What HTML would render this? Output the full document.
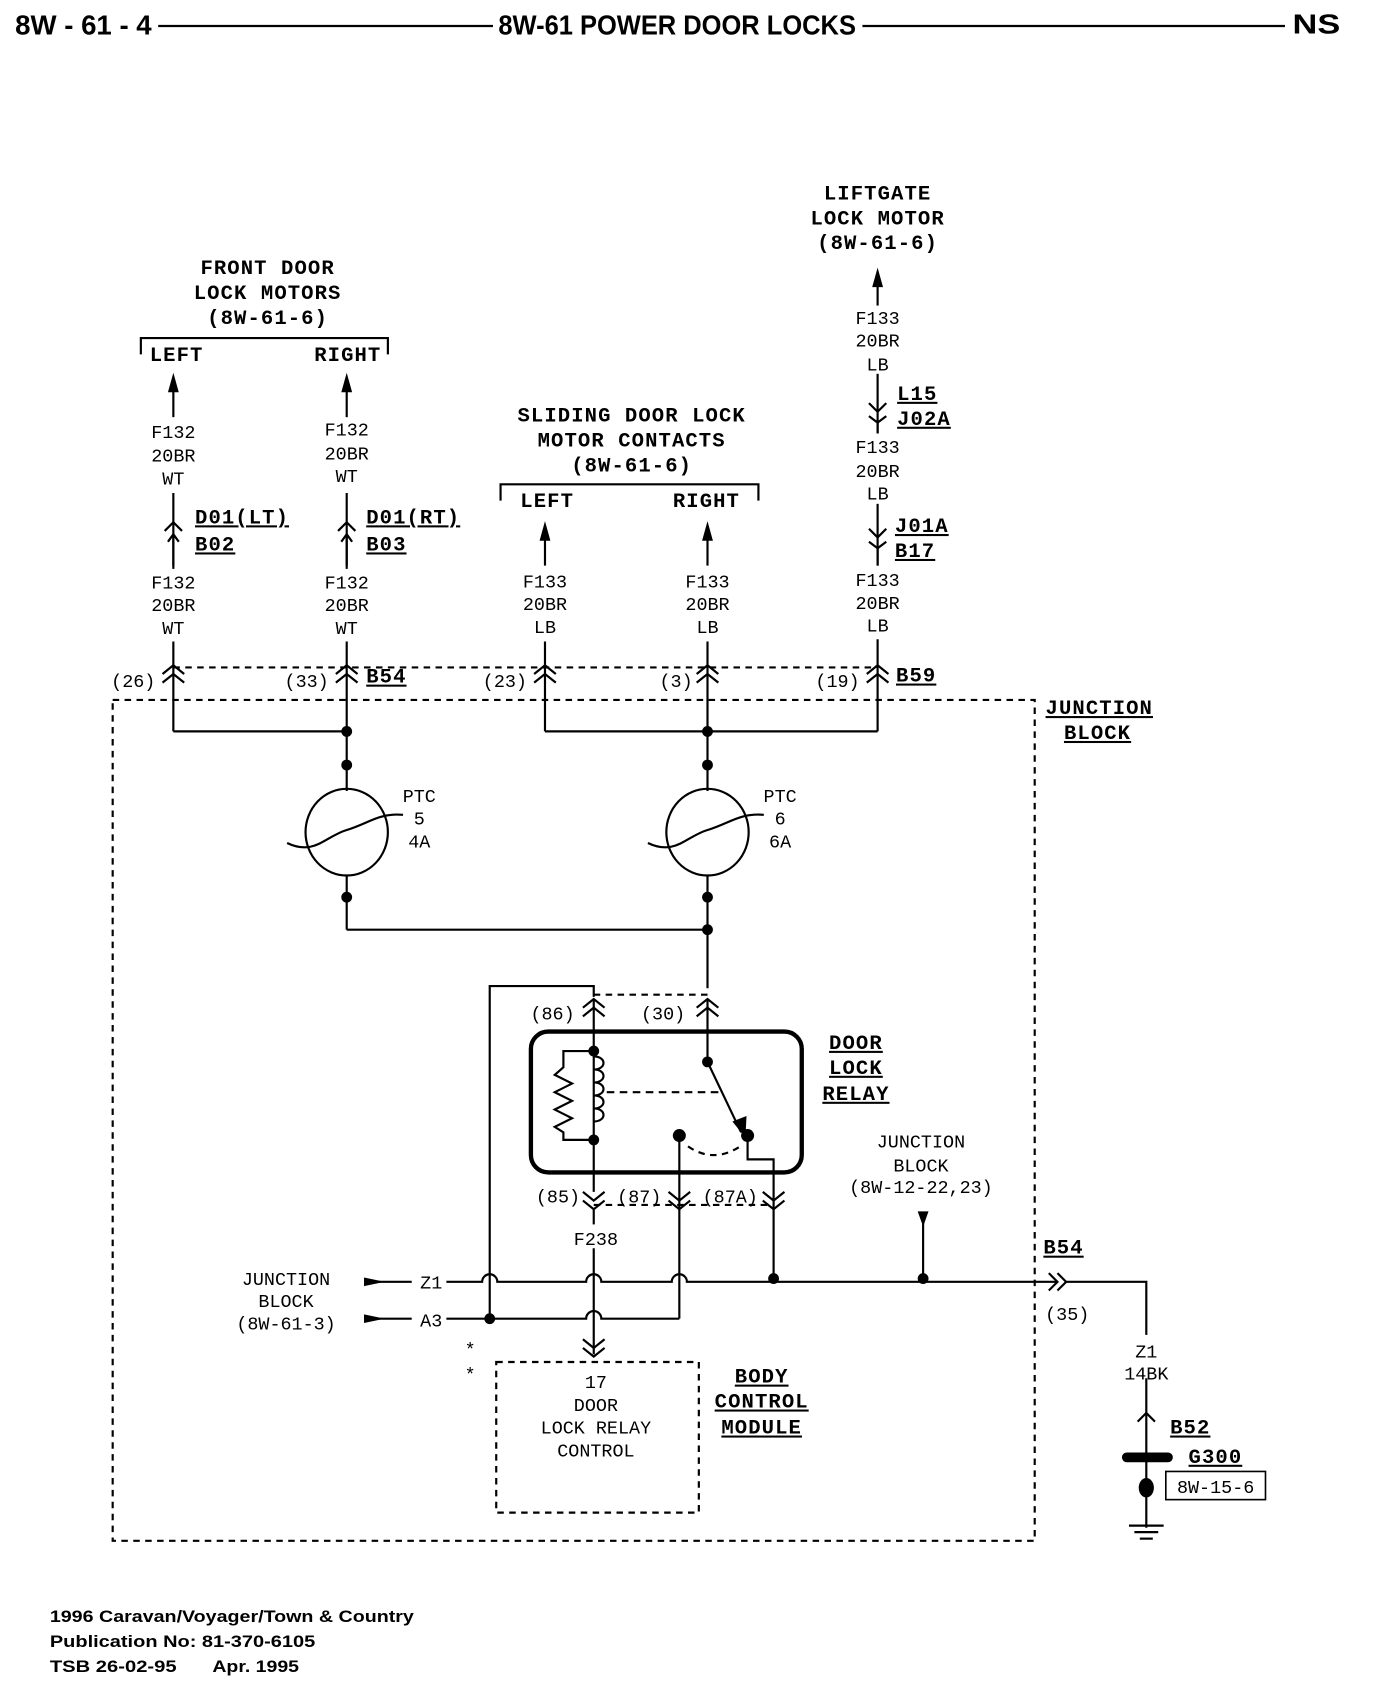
<!DOCTYPE html>
<html><head><meta charset="utf-8"><style>
html,body{margin:0;padding:0;background:#fff}
svg{display:block}
.m{font-family:"Liberation Mono",monospace;font-size:17px;fill:#000;text-anchor:middle}
.b{font-family:"Liberation Mono",monospace;font-weight:bold;font-size:19px;fill:#000;text-anchor:middle;letter-spacing:1px}
.u{text-decoration:underline}
.h{font-family:"Liberation Sans",sans-serif;font-weight:bold;font-size:26px;fill:#000}
.f{font-family:"Liberation Sans",sans-serif;font-size:15px;font-weight:bold;fill:#000}
</style></head><body>
<svg width="1376" height="1686" viewBox="0 0 1270 1556" preserveAspectRatio="none" xmlns="http://www.w3.org/2000/svg">
<g fill="none" stroke="#000" stroke-width="2">
<text class="h" x="14" y="32" textLength="126" lengthAdjust="spacingAndGlyphs" stroke="none" fill="#000">8W - 61 - 4</text>
<line x1="146" y1="24" x2="455" y2="24"/>
<text class="h" x="460" y="32" textLength="330" lengthAdjust="spacingAndGlyphs" stroke="none" fill="#000">8W-61 POWER DOOR LOCKS</text>
<line x1="796" y1="24" x2="1186" y2="24"/>
<text class="h" x="1193" y="31" textLength="44" lengthAdjust="spacingAndGlyphs" stroke="none" fill="#000">NS</text>

<polyline points="130,327 130,312 358,312 358,327"/>
<polyline points="462,462 462,447 700,447 700,462"/>

<line x1="160" y1="352" x2="160" y2="385"/><line x1="160" y1="455" x2="160" y2="525"/><line x1="160" y1="592" x2="160" y2="675"/>
<line x1="320" y1="352" x2="320" y2="385"/><line x1="320" y1="455" x2="320" y2="525"/><line x1="320" y1="592" x2="320" y2="730"/>
<line x1="503" y1="490" x2="503" y2="522"/><line x1="503" y1="592" x2="503" y2="675"/>
<line x1="653" y1="490" x2="653" y2="522"/><line x1="653" y1="592" x2="653" y2="730"/>
<line x1="810" y1="255" x2="810" y2="282"/><line x1="810" y1="345" x2="810" y2="400"/><line x1="810" y1="465" x2="810" y2="522"/><line x1="810" y1="590" x2="810" y2="675"/>
<line x1="160" y1="675" x2="320" y2="675"/><line x1="503" y1="675" x2="810" y2="675"/>

<g fill="#000" stroke="none">
<polygon points="160,344 155,362 165,362"/><polygon points="320,344 315,362 325,362"/>
<polygon points="503,481 498,499 508,499"/><polygon points="653,481 648,499 658,499"/>
<polygon points="810,247 805,265 815,265"/>
<polygon points="852,1132 847,1118 857,1118"/>
<polygon points="355,1183 336,1179 336,1187"/><polygon points="355,1217 336,1213 336,1221"/>
</g>
<line x1="336" y1="1183" x2="380" y2="1183"/><line x1="336" y1="1217" x2="380" y2="1217"/>

<polyline points="152,490 160,482 168,490"/><line x1="160" y1="496" x2="160" y2="522"/><polyline points="155,500 160,493 165,500"/>
<polyline points="312,490 320,482 328,490"/><line x1="320" y1="496" x2="320" y2="522"/><polyline points="315,500 320,493 325,500"/>
<polyline points="802,372 810,380 818,372"/><polyline points="802,384 810,390 818,384"/><line x1="810" y1="390" x2="810" y2="400"/>
<polyline points="802,488 810,496 818,488"/><polyline points="802,500 810,506 818,500"/><line x1="810" y1="506" x2="810" y2="522"/>

<g>
<polyline points="150,622 160,614 170,622"/><polyline points="150,630 160,622 170,630"/>
<polyline points="310,622 320,614 330,622"/><polyline points="310,630 320,622 330,630"/>
<polyline points="493,622 503,614 513,622"/><polyline points="493,630 503,622 513,630"/>
<polyline points="643,622 653,614 663,622"/><polyline points="643,630 653,622 663,630"/>
<polyline points="800,622 810,614 820,622"/><polyline points="800,630 810,622 820,630"/>
</g>
<line x1="160" y1="616" x2="810" y2="616" stroke-dasharray="6,5"/>

<rect x="104" y="646" width="851" height="776" stroke-dasharray="6,5"/>

<ellipse cx="320" cy="768" rx="38" ry="40"/><ellipse cx="653" cy="768" rx="38" ry="40"/>
<path d="M265,778 C290,790 300,772 320,766 S350,750 372,752"/>
<path d="M598,778 C623,790 633,772 653,766 S683,750 705,752"/>
<line x1="320" y1="808" x2="320" y2="858"/><line x1="653" y1="808" x2="653" y2="912"/>
<line x1="320" y1="858" x2="653" y2="858"/>

<rect x="490" y="952" width="250" height="130" rx="16" stroke-width="4"/>
<polyline points="548,920 548,910 452,910 452,1217"/>
<polyline points="538,930 548,922 558,930"/><polyline points="538,938 548,930 558,938"/>
<polyline points="643,930 653,922 663,930"/><polyline points="643,938 653,930 663,938"/>
<line x1="548" y1="918" x2="653" y2="918" stroke-dasharray="6,5"/>
<line x1="548" y1="922" x2="548" y2="1100"/><line x1="653" y1="922" x2="653" y2="980"/>
<polyline points="548,970 520,970 520,985 512,992 528,1000 512,1008 528,1016 512,1024 528,1032 512,1040 520,1045 520,1052 548,1052"/>
<path d="M548,975 c12,0 12,12 0,12 c12,0 12,12 0,12 c12,0 12,12 0,12 c12,0 12,12 0,12 c12,0 12,12 0,12"/>
<line x1="560" y1="1008" x2="668" y2="1008" stroke-dasharray="7,5"/>
<line x1="653" y1="980" x2="684" y2="1045"/>
<polygon points="688,1050 676,1035 689,1030" fill="#000" stroke="none"/>
<path d="M635,1058 Q660,1075 686,1056" stroke-dasharray="6,5"/>
<polyline points="690,1048 690,1070 714,1070 714,1180"/>
<line x1="627" y1="1048" x2="627" y2="1217"/>
<polyline points="538,1100 548,1108 558,1100"/><polyline points="538,1108 548,1116 558,1108"/>
<polyline points="617,1100 627,1108 637,1100"/><polyline points="617,1108 627,1116 637,1108"/>
<polyline points="704,1100 714,1108 724,1100"/><polyline points="704,1108 714,1116 724,1108"/>
<line x1="548" y1="1112" x2="714" y2="1112" stroke-dasharray="6,5"/>
<line x1="548" y1="1116" x2="548" y2="1130"/><line x1="548" y1="1152" x2="548" y2="1250"/>
<path d="M412,1183 H445 a7,7 0 0 1 14,0 H541 a7,7 0 0 1 14,0 H620 a7,7 0 0 1 14,0 H975"/>
<path d="M412,1217 H541 a7,7 0 0 1 14,0 H627"/>
<line x1="852" y1="1120" x2="852" y2="1183"/>
<polyline points="968,1175 976,1183 968,1191"/><polyline points="976,1175 984,1183 976,1191"/>
<polyline points="984,1183 1058,1183 1058,1232"/>
<polyline points="538,1236 548,1244 558,1236"/><polyline points="538,1244 548,1252 558,1244"/>
<rect x="458" y="1257" width="187" height="139" stroke-dasharray="6,5"/>
<line x1="1058" y1="1272" x2="1058" y2="1410"/>
<polyline points="1050,1312 1058,1304 1066,1312"/>
<line x1="1040" y1="1345" x2="1078" y2="1345" stroke-width="9" stroke-linecap="round"/>
<rect x="1076" y="1358" width="92" height="26" stroke-width="1.5"/>
<line x1="1042" y1="1408" x2="1074" y2="1408"/><line x1="1047" y1="1414" x2="1069" y2="1414"/><line x1="1052" y1="1420" x2="1064" y2="1420"/>
</g>
<g fill="#000">
<circle cx="320" cy="675" r="5"/><circle cx="653" cy="675" r="5"/>
<circle cx="320" cy="706" r="5"/><circle cx="653" cy="706" r="5"/>
<circle cx="320" cy="828" r="5"/><circle cx="653" cy="828" r="5"/><circle cx="653" cy="858" r="5"/>
<circle cx="548" cy="970" r="5"/><circle cx="548" cy="1052" r="5"/><circle cx="653" cy="980" r="5"/>
<circle cx="627" cy="1048" r="6"/><circle cx="690" cy="1048" r="6"/>
<circle cx="714" cy="1180" r="5"/><circle cx="852" cy="1180" r="5"/><circle cx="452" cy="1217" r="5"/>
<ellipse cx="1058" cy="1373" rx="7" ry="9"/>
</g>

<text class="b" x="247" y="253">FRONT DOOR</text><text class="b" x="247" y="276">LOCK MOTORS</text><text class="b" x="247" y="299">(8W-61-6)</text>
<text class="b" x="163" y="333">LEFT</text><text class="b" x="321" y="333">RIGHT</text>
<text class="b" x="810" y="184">LIFTGATE</text><text class="b" x="810" y="207">LOCK MOTOR</text><text class="b" x="810" y="230">(8W-61-6)</text>
<text class="b" x="583" y="389">SLIDING DOOR LOCK</text><text class="b" x="583" y="412">MOTOR CONTACTS</text><text class="b" x="583" y="435">(8W-61-6)</text>
<text class="b" x="505" y="468">LEFT</text><text class="b" x="652" y="468">RIGHT</text>
<text class="b u" x="180" y="483" style="text-anchor:start">D01(LT)</text><text class="b u" x="180" y="508" style="text-anchor:start">B02</text>
<text class="b u" x="338" y="483" style="text-anchor:start">D01(RT)</text><text class="b u" x="338" y="508" style="text-anchor:start">B03</text>
<text class="b u" x="828" y="369" style="text-anchor:start">L15</text><text class="b u" x="828" y="392" style="text-anchor:start">J02A</text>
<text class="b u" x="826" y="491" style="text-anchor:start">J01A</text><text class="b u" x="826" y="514" style="text-anchor:start">B17</text>
<text class="b u" x="338" y="630" style="text-anchor:start">B54</text><text class="b u" x="827" y="629" style="text-anchor:start">B59</text>
<text class="b u" x="965" y="659" style="text-anchor:start">JUNCTION</text><text class="b u" x="982" y="682" style="text-anchor:start">BLOCK</text>
<text class="b u" x="963" y="1157" style="text-anchor:start">B54</text>
<text class="b u" x="1080" y="1323" style="text-anchor:start">B52</text><text class="b u" x="1097" y="1350" style="text-anchor:start">G300</text>
<text class="b u" x="790" y="968">DOOR</text><text class="b u" x="790" y="991">LOCK</text><text class="b u" x="790" y="1015">RELAY</text>
<text class="b u" x="703" y="1276">BODY</text><text class="b u" x="703" y="1299">CONTROL</text><text class="b u" x="703" y="1323">MODULE</text>

<text class="m" x="160" y="404">F132</text><text class="m" x="160" y="426">20BR</text><text class="m" x="160" y="447">WT</text>
<text class="m" x="320" y="402">F132</text><text class="m" x="320" y="424">20BR</text><text class="m" x="320" y="445">WT</text>
<text class="m" x="160" y="543">F132</text><text class="m" x="160" y="564">20BR</text><text class="m" x="160" y="585">WT</text>
<text class="m" x="320" y="543">F132</text><text class="m" x="320" y="564">20BR</text><text class="m" x="320" y="585">WT</text>
<text class="m" x="503" y="542">F133</text><text class="m" x="503" y="563">20BR</text><text class="m" x="503" y="584">LB</text>
<text class="m" x="653" y="542">F133</text><text class="m" x="653" y="563">20BR</text><text class="m" x="653" y="584">LB</text>
<text class="m" x="810" y="299">F133</text><text class="m" x="810" y="320">20BR</text><text class="m" x="810" y="342">LB</text>
<text class="m" x="810" y="418">F133</text><text class="m" x="810" y="440">20BR</text><text class="m" x="810" y="461">LB</text>
<text class="m" x="810" y="541">F133</text><text class="m" x="810" y="562">20BR</text><text class="m" x="810" y="583">LB</text>
<text class="m" x="123" y="634">(26)</text><text class="m" x="283" y="634">(33)</text><text class="m" x="466" y="634">(23)</text><text class="m" x="624" y="634">(3)</text><text class="m" x="773" y="634">(19)</text>
<text class="m" x="387" y="740">PTC</text><text class="m" x="387" y="761">5</text><text class="m" x="387" y="782">4A</text>
<text class="m" x="720" y="740">PTC</text><text class="m" x="720" y="761">6</text><text class="m" x="720" y="782">6A</text>
<text class="m" x="510" y="941">(86)</text><text class="m" x="612" y="941">(30)</text>
<text class="m" x="515" y="1110">(85)</text><text class="m" x="590" y="1110">(87)</text><text class="m" x="674" y="1110">(87A)</text>
<text class="m" x="550" y="1149">F238</text>
<text class="m" x="850" y="1059">JUNCTION</text><text class="m" x="850" y="1081">BLOCK</text><text class="m" x="850" y="1101">(8W-12-22,23)</text>
<text class="m" x="264" y="1186">JUNCTION</text><text class="m" x="264" y="1206">BLOCK</text><text class="m" x="264" y="1227">(8W-61-3)</text>
<text class="m" x="398" y="1189">Z1</text><text class="m" x="398" y="1224">A3</text>
<text class="m" x="985" y="1218">(35)</text>
<text class="m" x="1058" y="1253">Z1</text><text class="m" x="1058" y="1273">14BK</text>
<text class="m" x="1122" y="1378">8W-15-6</text>
<text class="m" x="434" y="1251">*</text><text class="m" x="434" y="1274">*</text>
<text class="m" x="550" y="1281">17</text><text class="m" x="550" y="1302">DOOR</text><text class="m" x="550" y="1323">LOCK RELAY</text><text class="m" x="550" y="1344">CONTROL</text>

<text class="f" x="46" y="1497" textLength="336" lengthAdjust="spacingAndGlyphs">1996 Caravan/Voyager/Town &amp; Country</text>
<text class="f" x="46" y="1520" textLength="245" lengthAdjust="spacingAndGlyphs">Publication No:  81-370-6105</text>
<text class="f" x="46" y="1543" textLength="117" lengthAdjust="spacingAndGlyphs">TSB 26-02-95</text>
<text class="f" x="196" y="1543" textLength="80" lengthAdjust="spacingAndGlyphs">Apr. 1995</text>
</svg>
</body></html>
